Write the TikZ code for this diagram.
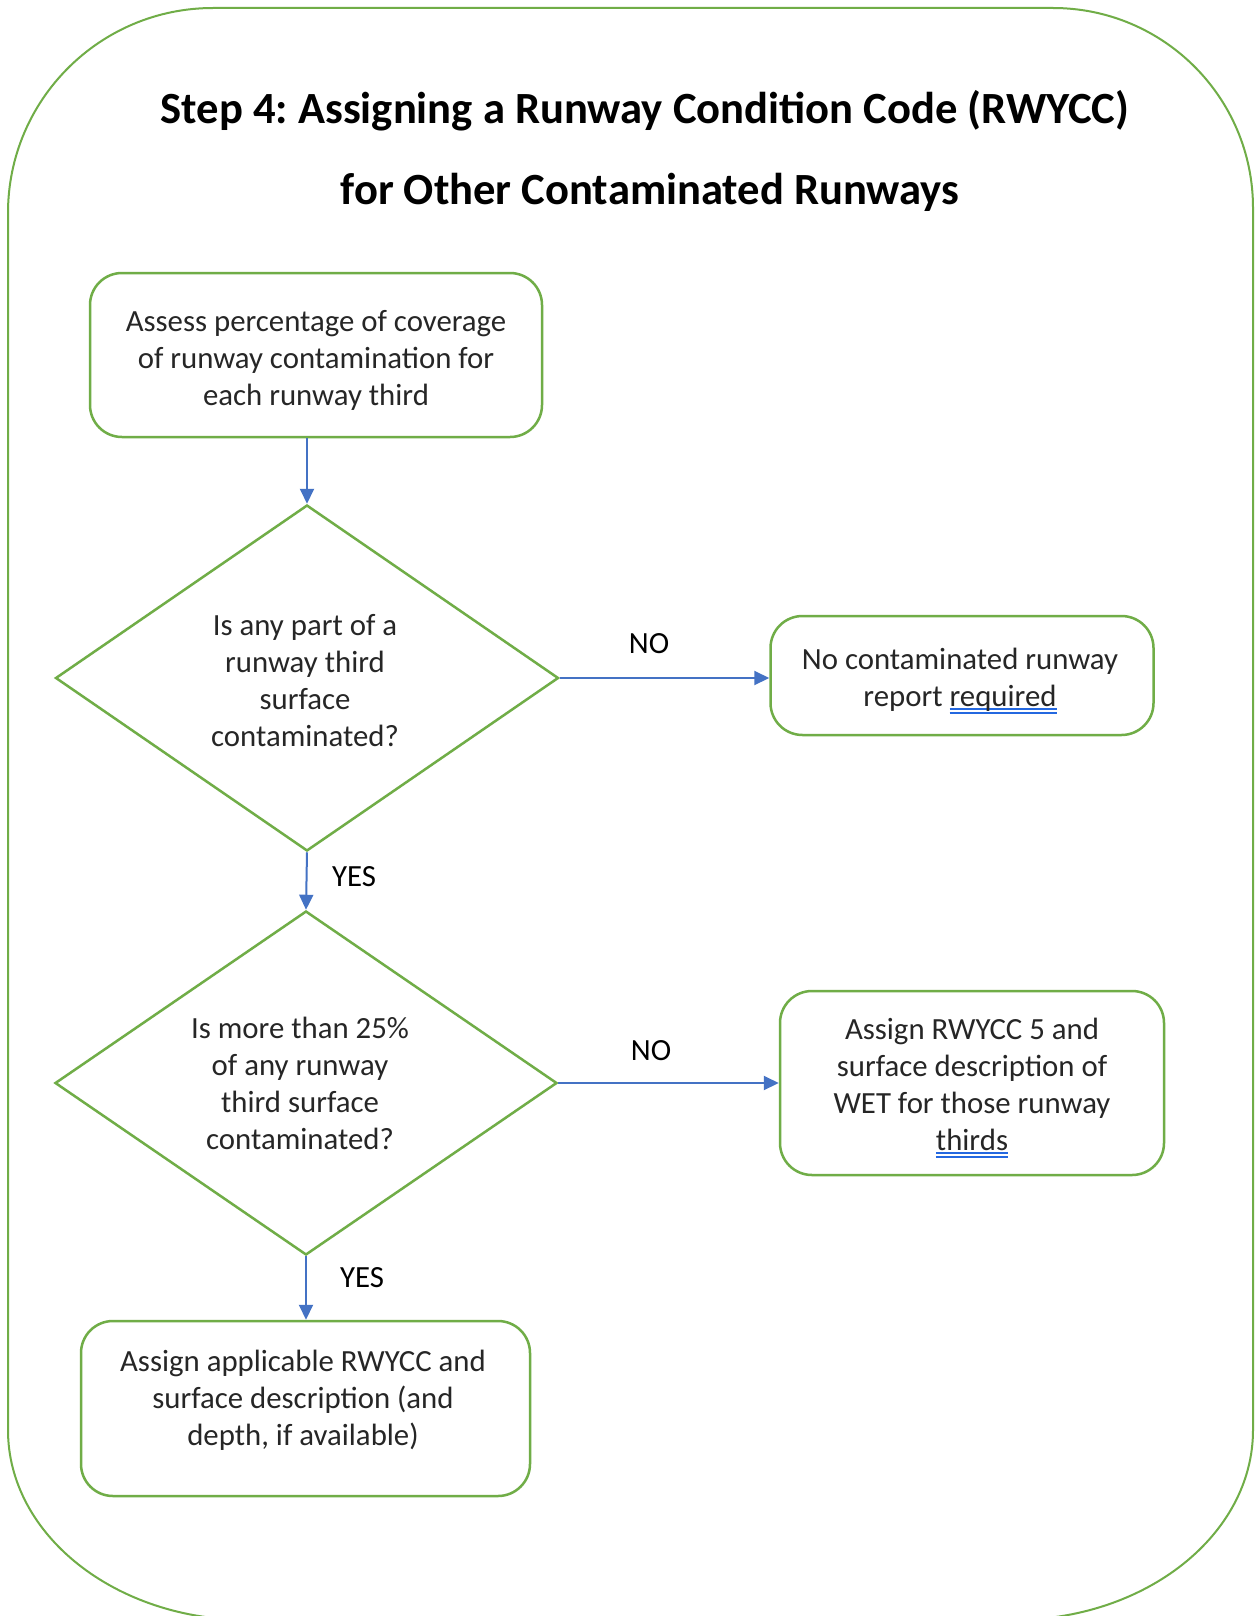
\documentclass[tikz,border=0pt]{standalone}
\usepackage{fontspec}
\setmainfont{Carlito}
\usetikzlibrary{shapes.geometric,arrows.meta}
\definecolor{frgreen}{HTML}{70AD47}
\definecolor{arblue}{HTML}{4472C4}
\definecolor{ulblue}{HTML}{2468E0}
\definecolor{txtgray}{HTML}{262626}
\newsavebox\ulbox
\newcommand\bluul[1]{\sbox\ulbox{#1}\rlap{\color{ulblue}\rule[-3pt]{\wd\ulbox}{2pt}}\rlap{\color{ulblue}\rule[-7pt]{\wd\ulbox}{2pt}}\usebox\ulbox}
\frenchspacing
\begin{document}
\begin{tikzpicture}[x=1pt,y=-1pt,
  frame/.style={draw=frgreen, line width=2pt},
  box/.style={draw=frgreen, line width=2.5pt, rounded corners=32pt, inner sep=0pt},
  dec/.style={diamond, draw=frgreen, line width=2.5pt, inner sep=0pt},
  txt/.style={align=center, font=\fontsize{30.8}{37}\selectfont\frenchspacing, text=txtgray, inner sep=0pt},
  ttl/.style={font=\fontsize{44.6}{50}\selectfont\bfseries\frenchspacing, text=black, inner sep=0pt},
  lbl/.style={font=\fontsize{30.8}{37}\selectfont, text=black, inner sep=0pt},
  arr/.style={draw=arblue, line width=2pt, -{Triangle[length=15pt,width=14pt]}}]
\useasboundingbox (0,0) rectangle (1255,1616);
\fill[white] (0,0) rectangle (1255,1616);
% outer frame
\draw[frame] (213,8) -- (1053,8)
  .. controls (1163.5,8) and (1253,97.5) .. (1253,208)
  -- (1253,1430)
  .. controls (1253,1534.9) and (1145.6,1620) .. (1013,1620)
  -- (248,1620)
  .. controls (115.4,1620) and (8,1534.9) .. (8,1430)
  -- (8,213)
  .. controls (8,99.8) and (99.8,8) .. (213,8) -- cycle;
% title
\node[ttl] (t1) at (645,110.5) {Step 4: Assigning a Runway Condition Code (RWYCC)};
\node[ttl] (t2) at (650,192) {for Other Contaminated Runways};
% shapes
\node[box, minimum width=452pt, minimum height=164pt] (b1) at (316,355) {};
\node[dec, minimum width=503pt, minimum height=346pt] (d1) at (307,678) {};
\node[box, minimum width=383pt, minimum height=119pt] (b2) at (962,675.5) {};
\node[dec, minimum width=502pt, minimum height=344pt] (d2) at (306,1083) {};
\node[box, minimum width=384pt, minimum height=184pt] (b3) at (972,1083) {};
\node[box, minimum width=449pt, minimum height=175pt] (b4) at (305.5,1408.5) {};
% texts
\node[txt] (b1t) at (316,360.5)
  {Assess percentage of coverage\\of runway contamination for\\each runway third};
\node[txt] (d1t) at (305,680.5)
  {Is any part of a\\runway third\\surface\\contaminated?};
\node[txt] (b2t) at (960,681)
  {No contaminated runway\\report \bluul{required}};
\node[txt] (d2t) at (300,1083)
  {Is more than 25\%\\of any runway\\third surface\\contaminated?};
\node[txt] (b3t) at (972,1088)
  {Assign RWYCC 5 and\\surface description of\\WET for those runway\\\bluul{thirds}};
\node[txt] (b4t) at (303,1400)
  {Assign applicable RWYCC and\\surface description (and\\depth, if available)};
% connectors
\draw[arr] (b1.south -| d1.north) -- (d1.north);
\draw[arr] (d1.east) -- (d1.east -| b2.west);
\draw[arr] (d1.south) -- (d2.north);
\draw[arr] (d2.east) -- (d2.east -| b3.west);
\draw[arr] (d2.south) -- (d2.south |- b4.north);
% labels
\node[lbl] (no1) at (649,644) {NO};
\node[lbl] (yes1) at (354,877) {YES};
\node[lbl] (no2) at (651,1051) {NO};
\node[lbl] (yes2) at (362,1278) {YES};
\end{tikzpicture}
\end{document}
